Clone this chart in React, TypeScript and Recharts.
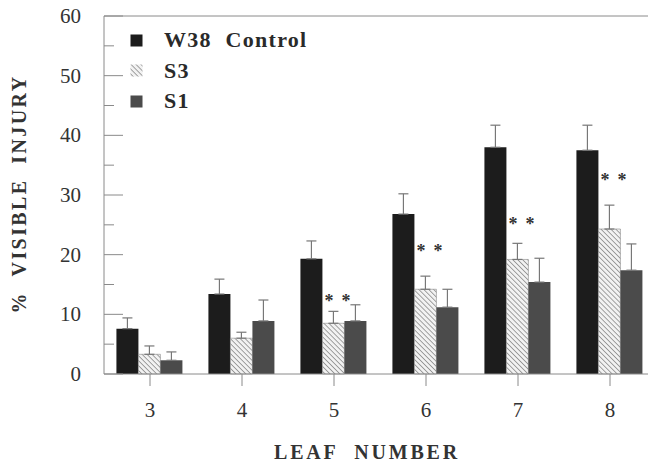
import React from "react";

import { Bar, ComposedChart, ErrorBar, Legend, ReferenceLine, Scatter, XAxis, YAxis } from "recharts";

const leaves = ["3", "4", "5", "6", "7", "8"];
const control = [7.6, 13.4, 19.3, 26.8, 38.0, 37.5];
const controlErr = [1.8, 2.5, 3.0, 3.4, 3.7, 4.2];
const s3 = [3.3, 6.0, 8.5, 14.2, 19.2, 24.3];
const s3Err = [1.4, 1.0, 2.0, 2.2, 2.7, 4.0];
const s1 = [2.3, 8.9, 8.9, 11.2, 15.4, 17.4];
const s1Err = [1.4, 3.5, 2.7, 3.0, 4.0, 4.4];
// height of the significance stars, null where none
const stars = [null, null, 12.7, 21.1, 25.6, 33.0];

const yTicks = [0, 5, 10, 15, 20, 25, 30, 35, 40, 45, 50, 55, 60];

const data = leaves.map((leaf, i) => ({
  leaf,
  control: control[i],
  controlErr: [0, controlErr[i]],
  s3: s3[i],
  s3Err: [0, s3Err[i]],
  s1: s1[i],
  s1Err: [0, s1Err[i]],
  star: stars[i],
}));

const serif = '"Liberation Serif", "DejaVu Serif", serif';
const axisGray = "#8a8a8a";

const legendItems = [
  { name: "W38  Control", fill: "#1c1c1c" },
  { name: "S3", fill: "url(#hatch)" },
  { name: "S1", fill: "#4b4b4b" },
];

const LegendBox = () => (
  <div style={{ fontFamily: serif }}>
    {legendItems.map((item) => (
      <div key={item.name} style={{ display: "flex", alignItems: "center", height: 30.5 }}>
        <svg width={13} height={13} style={{ marginRight: 21 }}>
          <rect x={0.5} y={0.5} width={12} height={12} fill={item.fill} />
        </svg>
        <span style={{ fontSize: 22, fontWeight: "bold", color: "#2a2a2a", whiteSpace: "pre", letterSpacing: 1.3 }}>
          {item.name}
        </span>
      </div>
    ))}
  </div>
);

const YTick = (props: any) => {
  const { x, y, payload } = props;
  const major = payload.value % 10 === 0;
  return (
    <g>
      <line x1={x} x2={x + (major ? 19 : 10)} y1={y} y2={y} stroke={axisGray} />
      {major && (
        <text x={x - 23} y={y} dy={7} textAnchor="end" fontFamily={serif} fontSize={21} fill="#333">
          {payload.value}
        </text>
      )}
    </g>
  );
};

const StarShape = (props: any) => {
  const { cx, cy } = props;
  if (cx == null || cy == null || props.payload.star == null) return null;
  return (
    <g fontFamily={serif} fontSize={18} fontWeight="bold" fill="#333" textAnchor="middle">
      <text x={cx - 5} y={cy + 9}>*</text>
      <text x={cx + 12} y={cy + 9}>*</text>
    </g>
  );
};

const App = () => {
  return (
    <div style={{ position: "absolute", left: 0, top: 0, width: 648, height: 464, overflow: "hidden", background: "#fff" }}>
      <ComposedChart
        width={660}
        height={464}
        data={data}
        margin={{ top: 16, right: 4, bottom: 60, left: 0 }}
        barCategoryGap="13.5%"
        barGap={0}
      >
        <defs>
          <pattern id="hatch" patternUnits="userSpaceOnUse" width={3.5} height={3.5} patternTransform="rotate(-45)">
            <rect width={3.5} height={3.5} fill="#f2f2f2" />
            <line x1={0} y1={0} x2={0} y2={3.5} stroke="#6a6a6a" strokeWidth={1.2} />
          </pattern>
        </defs>
        <XAxis
          dataKey="leaf"
          height={30}
          stroke={axisGray}
          tickSize={12}
          tickMargin={16}
          tick={{ fontFamily: serif, fontSize: 21, fill: "#333" }}
          label={{
            value: "LEAF\u00a0\u00a0NUMBER",
            position: "bottom",
            offset: 41,
            dx: -13,
            fontFamily: serif,
            fontSize: 20,
            fontWeight: "bold",
            fill: "#333",
            letterSpacing: 2.8,
          }}
        />
        <YAxis
          domain={[0, 60]}
          ticks={yTicks}
          interval={0}
          width={104}
          stroke={axisGray}
          tickLine={false}
          tickSize={0}
          tickMargin={0}
          tick={<YTick />}
          label={{
            value: "%\u00a0\u00a0VISIBLE\u00a0\u00a0INJURY",
            angle: -90,
            position: "center",
            dx: -33,
            dy: -1,
            fontFamily: serif,
            fontSize: 20,
            fontWeight: "bold",
            fill: "#333",
            letterSpacing: 2.4,
          }}
        />
        <ReferenceLine y={60} stroke={axisGray} />
        <Legend
          layout="vertical"
          verticalAlign="middle"
          align="center"
          content={<LegendBox />}
          wrapperStyle={{ left: 130, top: 25, width: 260 }}
        />
        <Bar dataKey="control" fill="#1c1c1c" isAnimationActive={false}>
          <ErrorBar dataKey="controlErr" width={5} stroke="#777" strokeWidth={1.2} />
        </Bar>
        <Bar dataKey="s3" fill="url(#hatch)" stroke="#888" strokeWidth={0.6} isAnimationActive={false}>
          <ErrorBar dataKey="s3Err" width={5} stroke="#777" strokeWidth={1.2} />
        </Bar>
        <Bar dataKey="s1" fill="#4b4b4b" isAnimationActive={false}>
          <ErrorBar dataKey="s1Err" width={5} stroke="#777" strokeWidth={1.2} />
        </Bar>
        <Scatter dataKey="star" shape={<StarShape />} isAnimationActive={false} legendType="none" />
      </ComposedChart>
    </div>
  );
};

export default App;
